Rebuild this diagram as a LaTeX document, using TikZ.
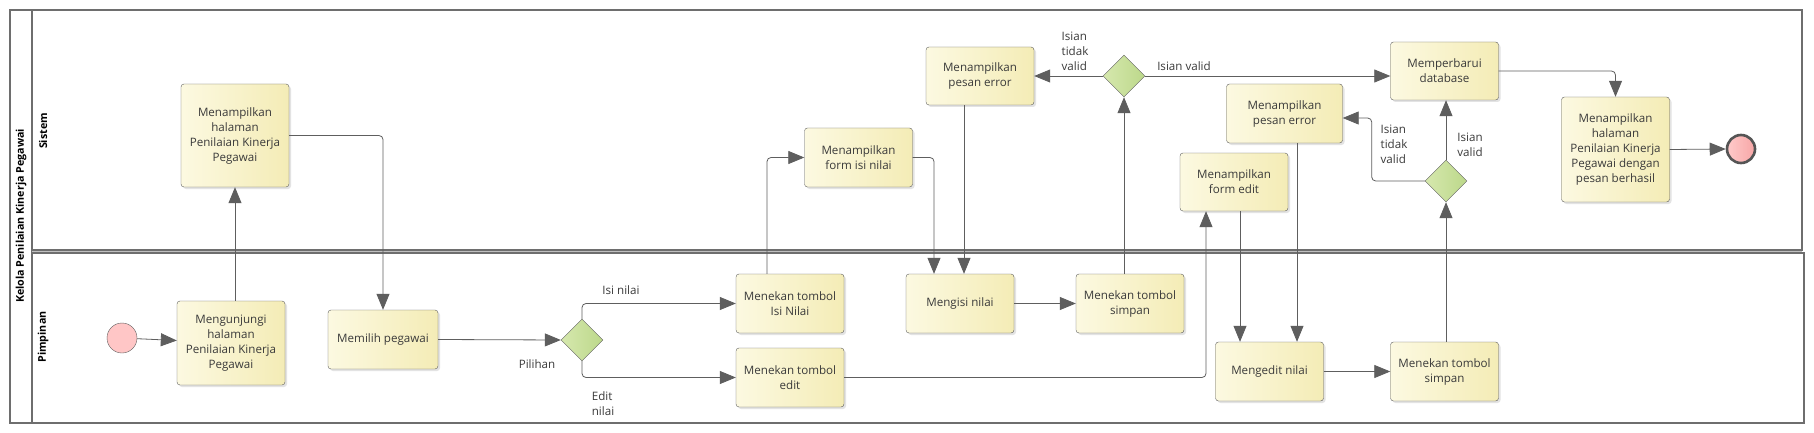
\documentclass[tikz,border=0pt]{standalone}
\usepackage{fontspec}
\setmainfont{Open Sans}
\usetikzlibrary{arrows.meta,shapes.geometric,shadows,calc}
\definecolor{lineg}{HTML}{5E5E5E}
\definecolor{poolg}{HTML}{6E6E6E}
\definecolor{taskl}{HTML}{FCF9E1}
\definecolor{taskr}{HTML}{F4ECB6}
\definecolor{gatel}{HTML}{D6E8AE}
\definecolor{gater}{HTML}{BCD88A}
\definecolor{startc}{HTML}{FFC6C6}
\definecolor{endl}{HTML}{FFCACA}
\definecolor{endr}{HTML}{F7A6A6}
\definecolor{inkg}{HTML}{3A3A3A}

\tikzset{
  task/.style={draw=lineg, rounded corners=3pt, left color=taskl, right color=taskr,
    minimum width=108pt, minimum height=59pt, align=center,
    inner sep=0pt, text=inkg, font=\fontsize{11.6}{15}\selectfont,
    drop shadow={shadow xshift=2pt, shadow yshift=-2pt, fill=black!18, opacity=0.6}},
  gate/.style={diamond, draw=lineg, left color=gatel, right color=gater,
    minimum width=42pt, minimum height=42pt, inner sep=0pt},
  flow/.style={draw=lineg, line width=0.8pt, rounded corners=4pt,
    -{Triangle[length=16pt, width=13pt, fill=lineg]}},
  tag/.style={text=inkg, font=\fontsize{11.6}{15}\selectfont, align=left, inner sep=0pt},
  lanetitle/.style={rotate=90, text=black, font=\fontsize{10.7}{12}\selectfont\bfseries, inner sep=0pt}
}

\begin{document}
\begin{tikzpicture}[x=1pt, y=-1pt]
  \useasboundingbox (0,0) rectangle (1814,433);
  \fill[white] (0,0) rectangle (1814,433);

  % ── Pool and lanes ──
  \draw[poolg, line width=1.4pt] (10,10) rectangle (32,423);
  \draw[poolg, line width=1.4pt] (32,10) rectangle (1802,250);
  \draw[poolg, line width=1.4pt] (32,253) rectangle (1804,423);
  \draw[black!25, line width=1.6pt] (32,251.5) -- (1802,251.5);
  \node[lanetitle] (pooltitle) at (21,216) {Kelola Penilaian Kinerja Pegawai};
  \node[lanetitle] (lanesys) at (43,131) {Sistem};
  \node[lanetitle] (laneboss) at (43,337) {Pimpinan};

  % ── Events ──
  \node[circle, draw=lineg, fill=startc, minimum size=30pt, inner sep=0pt] (start) at (122,338) {};
  \node[circle, draw=lineg!90!black, line width=2.6pt, left color=endl, right color=endr,
        minimum size=28pt, inner sep=0pt] (finish) at (1741,149) {};

  % ── Tasks, Pimpinan lane ──
  \node[task, minimum height=84pt] (visit) at (231,343) {Mengunjungi\\halaman\\Penilaian Kinerja\\Pegawai};
  \node[task, minimum width=110pt] (pick) at (383,339.5) {Memilih pegawai};
  \node[task] (pressisi) at (790,303.5) {Menekan tombol\\Isi Nilai};
  \node[task] (pressedit) at (790,377.5) {Menekan tombol\\edit};
  \node[task] (fill) at (960,303.5) {Mengisi nilai};
  \node[task] (saveone) at (1130,303.5) {Menekan tombol\\simpan};
  \node[task] (editval) at (1269.5,371.5) {Mengedit nilai};
  \node[task] (savetwo) at (1444.5,371.5) {Menekan tombol\\simpan};

  % ── Tasks, Sistem lane ──
  \node[task, minimum height=103pt] (page) at (235,135.5) {Menampilkan\\halaman\\Penilaian Kinerja\\Pegawai};
  \node[task] (formisi) at (858.5,157.5) {Menampilkan\\form isi nilai};
  \node[task, minimum height=58pt] (errone) at (980,76) {Menampilkan\\pesan error};
  \node[task, minimum height=58pt] (db) at (1444.5,71) {Memperbarui\\database};
  \node[task, minimum width=116pt] (errtwo) at (1284.5,113.5) {Menampilkan\\pesan error};
  \node[task, minimum height=58pt] (formedit) at (1234,182) {Menampilkan\\form edit};
  \node[task, minimum height=105pt] (done) at (1615.5,149.5) {Menampilkan\\halaman\\Penilaian Kinerja\\Pegawai dengan\\pesan berhasil};

  % ── Gateways ──
  \node[gate] (choice) at (582,340) {};
  \node[gate] (checkone) at (1124,76) {};
  \node[gate] (checktwo) at (1446,181) {};

  % ── Flows ──
  \draw[flow] (start) -- (visit);
  \draw[flow] (visit.north -| page.south) -- (page.south);
  \draw[flow] (page.east) -| (pick.north);
  \draw[flow] (pick.east) -- (choice.west);
  \draw[flow] (choice.north) |- (pressisi.west);
  \draw[flow] (choice.south) |- (pressedit.west);
  \draw[flow] ($(pressisi.north)+(-23,0)$) |- (formisi.west);
  \draw[flow] (formisi.east) -| ($(fill.north)+(-26,0)$);
  \draw[flow] ($(errone.south)+(-16,0)$) -- ($(fill.north)+(4,0)$);
  \draw[flow] (fill) -- (saveone);
  \draw[flow] (checkone.south |- saveone.north) -- (checkone.south);
  \draw[flow] (checkone.west) -- (errone.east);
  \draw[flow] (checkone.east) -- (checkone.east -| db.west);
  \draw[flow] (pressedit.east) -| ($(formedit.south)+(-28,0)$);
  \draw[flow] ($(formedit.south)+(6,0)$) -- ($(editval.north)+(-29.5,0)$);
  \draw[flow] ($(errtwo.south)+(12.5,0)$) -- ($(editval.north)+(27.5,0)$);
  \draw[flow] (editval) -- (savetwo);
  \draw[flow] (checktwo.south |- savetwo.north) -- (checktwo.south);
  \draw[flow] (checktwo.north) -- (checktwo.north |- db.south);
  \draw[flow] (checktwo.west) -| ($(errtwo.east)+(29,4.5)$) -- ($(errtwo.east)+(0,4.5)$);
  \draw[flow] (db.east) -| (done.north);
  \draw[flow] (done.east) -- (finish.west);

  % ── Flow labels ──
  \node[tag] (lblisi) at (621,290) {Isi nilai};
  \node[tag] (lblpilih) at (537,364) {Pilihan};
  \node[tag] (lbledit) at (603,404) {Edit\\nilai};
  \node[tag] (lblnotone) at (1075,51) {Isian\\tidak\\valid};
  \node[tag] (lblokone) at (1184,66) {Isian valid};
  \node[tag] (lblnottwo) at (1394,144) {Isian\\tidak\\valid};
  \node[tag] (lbloktwo) at (1470,145) {Isian\\valid};
\end{tikzpicture}
\end{document}
